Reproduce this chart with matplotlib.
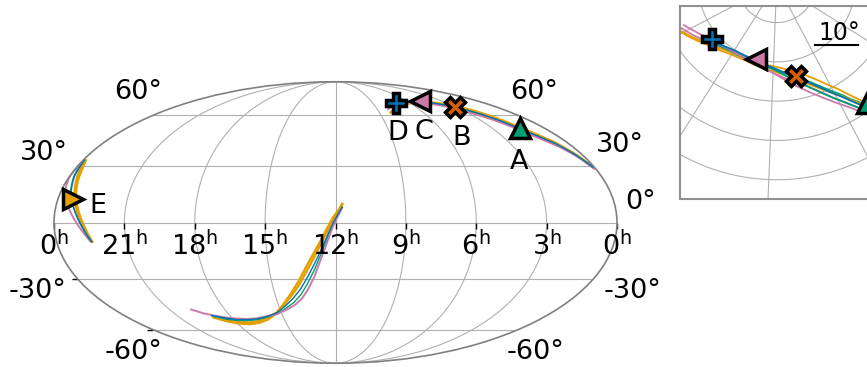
import numpy as np
import matplotlib
matplotlib.use('Agg')
import matplotlib.pyplot as plt
from matplotlib.ticker import NullFormatter

nan = float('nan')
BLUE, ORANGE, GREEN, PINK, VERMILION = '#0072B2', '#E69F00', '#009E73', '#CC79A7', '#D55E00'

# localisation arcs, ra / dec in degrees
north_ra = [123.4, 115, 106.5, 98, 90.1, 81, 73.2, 66, 58.8, 53, 47.2, 41, 35.5, 31.5, 27.7, 24.8, 21.9, 16, 10, 5, 1]
north_orange_a = [62.0, 64.6, 66.7, 68.1, 69.1, 69.5, 69.4, 69.1, 68.8, 68.2, 67.2, 65.7, 63.6, 61.4, 59.0, 56.3, 53.2, 48.6, 43.6, 37.0, 29.5]
north_orange_b = [61.7, 64.2, 66.3, 67.6, 68.5, 68.8, 68.5, 68.1, 67.5, 66.6, 65.2, 63.4, 61.1, 59.1, 56.8, 54.4, 51.7, 47.3, 42.4, 36.2, 29.0]
north_blue = [nan, nan, 67.9, 69.1, 69.8, 69.9, 69.5, 69.1, 68.3, 67.2, 65.8, 63.9, 61.5, 59.1, 56.6, 54.0, 51.2, 46.9, 42.3, 36.2, 29.1]
north_green = [nan, nan, 67.6, 68.7, 69.3, 69.5, 69.3, 68.9, 67.9, 66.6, 64.8, 62.6, 59.9, 57.5, 54.9, 52.5, 49.8, 45.8, 41.4, 35.6, 28.8]
north_green_b = [nan, nan, 67.3, 68.4, 69.0, 69.2, 69.0, 68.6, 68.1, 67.2, 66.0, 64.2, 61.9, 59.7, 57.3, 54.7, 52.2, 47.8, 42.8, 36.4, 29.2]
north_pink = [64.1, 66.4, 68.2, 69.0, 69.4, 69.4, 68.9, 68.2, 66.9, 65.4, 63.5, 61.1, 58.5, 56.2, 53.7, 51.2, 48.6, 44.6, 40.4, 34.9, 28.3]
north_pink_b = [62.9, 65.2, 67.2, 68.4, 69.1, 69.2, 68.8, 68.0, 67.0, 65.8, 64.6, 62.6, 60.1, 57.6, 55.0, 52.4, 49.4, 45.0, 40.8, 35.2, 28.5]

south_ra = [297.4, 291, 285.4, 277, 268.2, 259, 249.9, 240, 229.4, 221, 212.9, 206, 200.5, 195, 190.5, 186, 181.9, 178.5, 175.7]
south_orange_a = [nan, nan, -52.2, -54.6, -55.9, -56.3, -55.5, -53.5, -49.6, -44.2, -37.9, -31.2, -24.2, -17.0, -10.8, -4.0, 2.2, 6.0, 9.3]
south_orange_b = [nan, nan, -51.8, -53.8, -55.1, -55.3, -54.5, -52.3, -49.2, -44.7, -39.2, -33.2, -26.7, -19.5, -12.8, -5.6, 1.3, 5.5, 9.7]
south_blue = [nan, nan, -50.8, -52.3, -53.3, -53.5, -53.1, -51.7, -49.4, -45.7, -41.2, -36.0, -30.2, -23.0, -16.1, -8.4, -0.6, 4.2, 8.1]
south_green = [nan, nan, -51.2, -53.0, -53.9, -54.1, -53.5, -52.1, -50.0, -46.9, -43.4, -38.8, -33.2, -26.0, -18.2, -9.8, -1.5, 3.7, 7.7]
south_pink = [-47.2, -49.4, -50.6, -51.9, -52.7, -53.0, -52.7, -51.5, -50.0, -47.7, -45.0, -41.2, -36.2, -29.2, -20.8, -11.6, -2.5, 3.3, 7.7]

west_dec = [33, 28, 24, 16, 8, -2.3, -10]
west_orange_a = [358.0, 355.0, 353.4, 350.0, 346.0, 340.6, 337.0]
west_orange_b = [358.6, 356.2, 354.6, 351.0, 347.0, 341.2, 337.2]
west_blue = [359.0, 357.6, 356.6, 353.2, 348.6, 342.2, 337.6]
west_green = [359.2, 358.2, 357.0, 353.6, 348.6, 342.0, 337.4]
west_pink = [359.5, 359.7, 359.8, 357.4, 352.0, 344.0, 338.0]

marker_names = ['A', 'B', 'C', 'D', 'E']
marker_ra = [20.8, 46.0, 73.2, 107.2, 350.2]
marker_dec = [51.8, 65.8, 70.0, 68.3, 12.2]
marker_shapes = ['^', 'X', '<', 'P', '>']
marker_colors = [GREEN, VERMILION, PINK, BLUE, ORANGE]

ra_labels = ['0', '21', '18', '15', '12', '9', '6', '3', '0']
ra_hours = [24, 21, 18, 15, 12, 9, 6, 3, 0]

series = [
    (ORANGE, north_orange_a, south_orange_a, west_orange_a),
    (ORANGE, north_orange_b, south_orange_b, west_orange_b),
    (GREEN, north_green, south_green, west_green),
    (PINK, north_pink, south_pink, west_pink),
    (BLUE, north_blue, south_blue, west_blue),
]
north_extra = [(GREEN, north_green_b), (PINK, north_pink_b)]


def lon(ra):
    return np.radians(180 - np.asarray(ra, dtype=float))


def zoom_xy(ra, dec):
    # flat polar view round the north pole for the inset
    r = 90 - np.asarray(dec, dtype=float)
    az = np.radians(57.7 - np.asarray(ra, dtype=float))
    return r * np.sin(az), -r * np.cos(az)


W, H = 867, 367
fig = plt.figure(figsize=(W / 100, H / 100), dpi=100)


def label(x, y, s, size=19.5):
    fig.text(x / W, 1 - y / H, s, ha='center', va='center', fontsize=size, color='black')


# all-sky map
ax = fig.add_axes([54 / W, (H - 364) / H, 563 / W, 283 / H], projection='mollweide')
ax.set_longitude_grid(45)
ax.set_latitude_grid(30)
ax.set_longitude_grid_ends(90)
ax.xaxis.set_major_formatter(NullFormatter())
ax.yaxis.set_major_formatter(NullFormatter())
ax.grid(True, color='#b0b0b0', lw=0.8)
ax.spines['geo'].set_color('#808080')
ax.spines['geo'].set_linewidth(1.2)

for color, north, south, west in series:
    lw = {ORANGE: 1.7, PINK: 1.4}.get(color, 1.0)
    ax.plot(lon(north_ra), np.radians(north), color=color, lw=lw)
    ax.plot(lon(south_ra), np.radians(south), color=color, lw=lw)
    ax.plot(lon(west), np.radians(west_dec), color=color, lw=lw)

for ra, dec, shape, color in zip(marker_ra, marker_dec, marker_shapes, marker_colors):
    ax.plot(lon(ra), np.radians(dec), marker=shape, ms=15, mfc=color, mec='black', mew=2.5,
            ls='none', zorder=5, clip_on=False)

# ticks on the equator and the south-west edge
for hours, name in zip(ra_hours, ra_labels):
    ax.plot(lon(hours * 15), 0, marker=3, ms=4.5, mew=1, color='black', clip_on=False)
    ax.annotate(f'${name}^{{\\mathrm{{h}}}}$', (lon(hours * 15), 0), xytext=(0, -23.5),
                textcoords='offset points', ha='center', va='baseline', fontsize=19.5,
                annotation_clip=False, math_fontfamily='dejavusans')
for dec in [-30, -60]:
    ax.plot(-np.pi, np.radians(dec), marker=0, ms=4.5, mew=1, color='black', clip_on=False)

label(138, 92, '60°')
label(534, 92, '60°')
label(44, 153, '30°')
label(620, 145, '30°')
label(641, 202, '0°')
label(38, 291, '-30°')
label(633, 291, '-30°')
label(134, 352, '-60°')
label(536, 352, '-60°')
label(519, 162, 'A')
label(462, 138, 'B')
label(424, 132, 'C')
label(398, 133, 'D')
label(98, 206, 'E')

# zoomed inset round the northern arc
inset = fig.add_axes([680 / W, (H - 199) / H, 193 / W, 193 / H])
inset.set_xlim(-24.6, 24.5)
inset.set_ylim(-54.9, -5.78)
inset.set_xticks([])
inset.set_yticks([])
for spine in inset.spines.values():
    spine.set_color('#909090')
    spine.set_linewidth(1.5)

for grid_dec in range(10, 90, 10):
    ring = np.linspace(0, 360, 361)
    inset.plot(*zoom_xy(ring, np.full_like(ring, grid_dec)), color='#b0b0b0', lw=0.8)
for grid_ra in range(0, 360, 30):
    inset.plot(*zoom_xy([grid_ra, grid_ra], [0, 90]), color='#b0b0b0', lw=0.8)

for color, north in north_extra:
    inset.plot(*zoom_xy(north_ra, north), color=color, lw=1.3)
for color, north, south, west in series:
    inset.plot(*zoom_xy(north_ra, north), color=color, lw=1.3)

for ra, dec, shape, color in zip(marker_ra, marker_dec, marker_shapes, marker_colors):
    inset.plot(*zoom_xy([ra], [dec]), marker=shape, ms=15, mfc=color, mec='black', mew=2.5,
               ls='none', zorder=5)

label(839, 33, '10°', size=17)
fig.add_artist(plt.Line2D([815 / W, 858 / W], [1 - 44.5 / H, 1 - 44.5 / H], color='black', lw=1.5))

fig.savefig('out.png', dpi=100)
